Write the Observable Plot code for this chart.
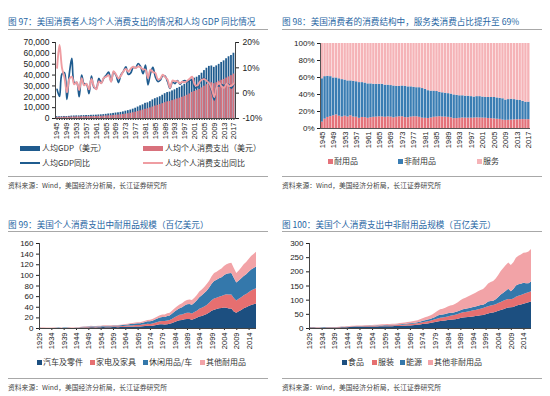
<!DOCTYPE html>
<html><head><meta charset="utf-8">
<script src="https://cdn.jsdelivr.net/npm/d3@7"></script>
<script src="https://cdn.jsdelivr.net/npm/@observablehq/plot@0.6"></script>
<style>
body{margin:0;background:#fff;}
#root{position:relative;width:550px;height:396px;overflow:hidden;background:#fff;}
.abs{position:absolute;}
.title{color:#2766a3;font-size:8.6px;font-family:"Noto Sans CJK SC",sans-serif;white-space:nowrap;line-height:10px;}
.hr{height:0;border-top:1px solid #a8a8a8;}
.src{color:#444;font-size:6.8px;font-family:"Noto Sans CJK SC",sans-serif;white-space:nowrap;line-height:8px;}
.leg{font-size:8px;color:#333;white-space:nowrap;line-height:10px;font-family:"Noto Sans CJK SC",sans-serif;}
</style></head><body><div id="root"></div>
<script>
// ---------- DATA ----------
const years1 = d3.range(1945, 2018);          // 1945..2017
const years3 = d3.range(1929, 2018);          // 1929..2017

// 图97
const gdpPerCapita = [
 1630,1609,1732,1872,1826,1969,2239,2331,2429,2396,
 2565,2661,2756,2751,2934,3002,3060,3238,3369,3567,
 3820,4137,4328,4686,5020,5233,5609,6094,6727,7224,
 7801,8594,9454,10564,11672,12576,13974,14432,15543,17123,
 18239,19074,20038,21417,22859,23891,24340,25420,26389,27698,
 28689,29967,31455,32848,34520,36325,37129,38027,39497,41713,
 44117,46296,47981,48382,47096,48471,49880,51600,53100,55048,
 56870,58017,60114];
const pcePerCapita = [
 858,1021,1124,1194,1198,1265,1347,1394,1454,1472,
 1559,1608,1667,1692,1786,1835,1862,1947,2022,2143,
 2283,2445,2554,2777,2982,3158,3375,3666,4017,4357,
 4781,5276,5798,6407,7061,7723,8442,8951,9780,10595,
 11445,12072,12761,13689,14558,15327,15653,16435,17203,18020,
 18717,19555,20391,21395,22606,24070,24923,25675,26768,28210,
 29760,31180,32372,32929,32096,32985,34305,35204,35942,37259,
 38303,39457,40948];
const gdpYoY = [
 1.5,-1.3,7.6,8.1,-2.5,7.8,13.7,4.1,4.2,-1.4,
 7.1,3.7,3.6,-0.2,6.7,2.3,1.9,5.8,4.0,5.9,
 7.1,8.3,4.6,8.3,7.1,4.2,7.2,8.6,10.4,7.4,
 8.0,10.2,10.0,11.7,10.5,7.7,11.1,3.3,7.7,10.2,
 6.5,4.6,5.1,6.9,6.7,4.5,1.9,4.4,3.8,5.0,
 3.6,4.5,5.0,4.4,5.1,5.2,2.2,2.4,3.9,5.6,
 5.8,4.9,3.6,0.8,-2.7,2.9,2.9,3.4,2.9,3.7,
 3.3,2.0,3.6];
const pceYoY = [
 10.0,19.0,10.0,6.2,0.3,5.6,6.5,3.5,4.3,1.2,
 5.9,3.1,3.7,1.5,5.6,2.7,1.5,4.6,3.9,6.0,
 6.5,7.1,4.5,8.7,7.4,5.9,6.9,8.6,9.6,8.5,
 9.7,10.4,9.9,10.5,10.2,9.4,9.3,6.0,9.3,8.3,
 8.0,5.5,5.7,7.3,6.3,5.3,2.1,5.0,4.7,4.7,
 3.9,4.5,4.3,4.9,5.7,6.5,3.5,3.0,4.3,5.4,
 5.5,4.8,3.8,1.7,-1.5,2.8,4.0,2.6,2.1,3.7,
 2.8,3.0,3.8];
const labels1 = ["人均GDP（美元）","人均个人消费支出（美元）","人均GDP同比","人均个人消费支出同比"];
const pctTicks = [-10, 0, 10, 20];

// 图98 (%)
const cats2 = ["耐用品","非耐用品","服务"];
const durableShare = [
 7.5,11,13,14,15,16,14.5,13.5,14.5,13.5,
 15,13.5,13.3,12,13,12.8,12,12.7,13.2,13.4,
 13.8,13.6,13.2,13.6,13.4,12.6,13.3,13.8,13.8,12.8,
 12.7,13.4,13.8,13.8,13.2,12.2,12.0,11.8,12.4,13.2,
 13.5,13.9,13.5,13.4,13.1,12.5,11.6,11.7,12.0,12.4,
 12.2,12.2,12.2,12.3,12.5,12.4,12.3,12.1,11.8,11.6,
 11.3,10.9,10.7,9.9,9.6,9.7,9.9,10.2,10.3,10.4,
 10.5,10.4,10.4];
const nondurableShare = [
 51,50,48.5,47,44.5,43.5,44,44,42.5,42.5,
 41,42,41.7,42,41,40.7,40.5,39.8,38.8,38.6,
 38.2,38.4,37.8,37.4,37.1,37.4,36.2,35.7,36.2,36.7,
 36.3,35.6,34.7,34.2,34.8,34.8,34,32.7,31.6,30.8,
 30,28.6,28.5,28.1,27.9,28,27.9,27.3,26.5,26.1,
 25.8,25.8,25.3,24.7,25,25.1,24.7,24.4,24.7,24.9,
 25.2,25.1,24.8,25.1,23.9,24.3,24.6,23.8,23.2,22.6,
 21.5,20.6,20.6];
const serviceShare = [
 41.5,39,38.5,39,40.5,40.5,41.5,42.5,43,44,
 44,44.5,45,46,46,46.5,47.5,47.5,48,48,
 48,48,49,49,49.5,50,50.5,50.5,50,50.5,
 51,51,51.5,52,52,53,54,55.5,56,56,
 56.5,57.5,58,58.5,59,59.5,60.5,61,61.5,61.5,
 62,62,62.5,63,62.5,62.5,63,63.5,63.5,63.5,
 63.5,64,64.5,65,66.5,66,65.5,66,66.5,67,
 68,69,69];

// 图99 (百亿美元)
const cats3 = ["汽车及零件","家电及家具","休闲用品/车","其他耐用品"];
const autos = [
 0.3,0.2,0.2,0.1,0.1,0.2,0.2,0.3,0.3,0.2,
 0.3,0.3,0.4,0.1,0.1,0.1,0.1,0.5,0.7,0.8,
 1.0,1.3,1.2,1.1,1.3,1.3,1.7,1.5,1.6,1.4,
 1.7,1.7,1.6,1.9,2.1,2.2,2.5,2.5,2.5,2.9,
 3.0,2.8,3.5,3.9,4.2,3.7,4.1,5.3,6.2,6.9,
 7.0,6.5,7.2,7.8,9.6,11.5,13.3,14.8,15.0,16.3,
 16.9,16.8,15.4,17.2,19.1,21.6,22.4,24.3,26.3,29.2,
 32.6,34.3,35.6,37.0,37.6,38.5,38.2,36.8,36.5,31.2,
 28.8,31.4,34.0,37.0,39.0,41.2,43.5,44.8,46.0];
const furnishings = [
 0.3,0.25,0.2,0.15,0.15,0.15,0.2,0.2,0.25,0.2,
 0.25,0.3,0.35,0.35,0.35,0.4,0.45,0.7,0.9,1.0,
 1.0,1.1,1.15,1.15,1.2,1.2,1.35,1.4,1.45,1.4,
 1.5,1.55,1.55,1.6,1.75,1.9,2.05,2.25,2.35,2.55,
 2.7,2.8,2.9,3.3,3.7,4.0,4.3,4.7,5.2,5.7,
 6.3,6.7,7.1,7.2,8.0,8.8,9.4,10.1,10.5,11.2,
 11.7,11.9,12.0,12.7,13.6,14.7,15.5,16.3,17.2,18.3,
 19.8,21.2,21.5,22.0,22.6,23.8,25.2,26.4,26.6,25.3,
 23.2,23.5,24.0,24.6,25.1,26.2,27.2,28.0,29.0];
const recreation = [
 0.2,0.17,0.14,0.1,0.1,0.11,0.13,0.15,0.17,0.15,
 0.17,0.19,0.22,0.25,0.25,0.25,0.3,0.5,0.6,0.65,
 0.7,0.9,0.85,0.85,0.9,0.95,1.05,1.1,1.15,1.2,
 1.3,1.35,1.4,1.55,1.7,2.0,2.2,2.6,2.7,2.9,
 3.1,3.2,3.5,4.0,4.6,4.9,5.3,5.8,6.4,7.1,
 7.5,7.6,8.2,8.5,9.5,10.7,11.5,12.5,13.6,15.0,
 16.0,16.5,16.5,17.8,19.5,21.8,23.6,25.1,26.8,28.6,
 31.0,33.0,33.5,34.6,35.5,37.0,38.5,39.8,40.5,38.0,
 33.5,34.5,35.5,36.5,37.2,38.5,39.5,40.2,41.0];
const otherDurable = [
 0.3,0.25,0.2,0.15,0.15,0.17,0.2,0.22,0.25,0.23,
 0.25,0.28,0.32,0.35,0.4,0.45,0.5,0.6,0.65,0.7,
 0.7,0.75,0.8,0.8,0.85,0.85,0.9,0.95,1.0,1.0,
 1.05,1.1,1.1,1.2,1.25,1.35,1.45,1.55,1.65,1.8,
 1.95,2.0,2.2,2.4,2.7,2.9,3.1,3.4,3.7,4.1,
 4.5,4.8,5.1,5.3,5.8,6.3,6.6,7.0,7.4,7.9,
 8.3,8.6,8.7,9.1,9.7,10.4,11.0,11.6,12.3,13.0,
 14.0,15.0,15.2,15.6,16.3,17.2,18.1,18.8,19.2,18.6,
 18.0,19.0,20.5,21.8,22.8,24.0,25.3,26.5,27.5];

// 图100 (百亿美元)
const cats4 = ["食品","服装","能源","其他非耐用品"];
const food = [
 1.95,1.8,1.5,1.2,1.15,1.3,1.45,1.6,1.75,1.7,
 1.7,1.8,2.1,2.5,2.8,3.0,3.2,3.7,4.1,4.3,
 4.2,4.4,4.9,5.1,5.2,5.3,5.4,5.6,5.9,6.1,
 6.2,6.3,6.5,6.6,6.8,7.1,7.5,8.0,8.2,8.7,
 9.2,10.0,10.4,11.1,12.3,14.0,15.3,16.3,17.5,19.1,
 21.3,23.3,24.8,25.6,26.5,27.8,28.8,30.0,31.3,33.0,
 35.0,37.0,38.0,38.5,39.7,41.0,42.0,43.5,44.8,46.2,
 48.5,51.0,53.5,55.0,57.3,60.5,63.3,66.3,69.5,72.5,
 72.8,74.5,78.5,81.0,83.0,86.0,88.5,90.5,93.5];
const clothing = [
 1.0,0.9,0.75,0.6,0.55,0.65,0.7,0.75,0.8,0.78,
 0.8,0.85,1.0,1.25,1.5,1.65,1.85,2.0,2.0,2.1,
 2.0,2.0,2.15,2.2,2.25,2.25,2.35,2.45,2.5,2.55,
 2.7,2.75,2.85,3.0,3.1,3.35,3.55,3.85,4.0,4.4,
 4.7,4.8,5.2,5.7,6.3,6.6,7.1,7.6,8.3,9.2,
 9.6,10.2,11.0,11.4,12.3,13.2,14.0,15.0,15.7,16.8,
 18.0,18.4,18.8,19.8,20.6,21.4,21.9,22.5,23.2,24.3,
 25.5,26.0,25.8,26.0,26.5,27.3,28.5,29.5,30.3,29.8,
 28.7,29.9,31.5,32.7,33.5,34.3,35.2,35.8,36.5];
const energy = [
 0.35,0.33,0.3,0.27,0.27,0.3,0.32,0.35,0.38,0.38,
 0.4,0.43,0.48,0.45,0.42,0.45,0.5,0.6,0.7,0.8,
 0.82,0.9,1.0,1.05,1.1,1.15,1.25,1.35,1.4,1.45,
 1.55,1.65,1.7,1.75,1.8,1.9,2.0,2.15,2.25,2.4,
 2.6,2.75,2.9,3.1,3.6,4.8,5.2,5.7,6.2,6.6,
 8.2,10.3,11.2,10.8,10.6,10.8,11.0,9.0,9.3,9.4,
 10.0,11.1,10.9,11.0,11.2,11.4,11.8,12.8,13.0,11.5,
 12.8,16.4,16.0,15.0,17.5,21.3,26.0,29.0,31.8,36.0,
 28.0,33.0,40.0,40.5,40.0,39.0,34.0,32.0,34.0];
const otherNondurable = [
 0.5,0.48,0.45,0.4,0.38,0.42,0.45,0.5,0.55,0.55,
 0.58,0.62,0.7,0.8,0.9,1.0,1.1,1.3,1.45,1.55,
 1.6,1.7,1.85,1.95,2.05,2.15,2.3,2.45,2.6,2.75,
 2.95,3.1,3.25,3.45,3.65,3.95,4.25,4.6,5.0,5.5,
 6.0,6.5,7.0,7.6,8.4,9.4,10.4,11.4,12.5,13.8,
 15.4,17.2,19.0,20.4,22.2,24.0,25.8,27.5,29.6,32.0,
 34.6,37.0,39.0,41.5,43.8,46.0,48.5,51.0,53.0,56.0,
 60.0,64.0,67.0,70.0,73.5,78.0,83.0,87.0,91.0,93.0,
 92.5,95.0,98.0,101.0,103.0,106.0,109.0,112.0,115.0];

const titles = [
 "图 97：美国消费者人均个人消费支出的情况和人均 GDP 同比情况",
 "图 98：美国消费者的消费结构中，服务类消费占比提升至 69%",
 "图 99：美国个人消费支出中耐用品规模（百亿美元）",
 "图 100：美国个人消费支出中非耐用品规模（百亿美元）"];
const sourceText = "资料来源：Wind，美国经济分析局，长江证券研究所";

// ---------- COLORS ----------
const C1 = {gdpBar:"#1f5b8e", pceBar:"#d8717c", gdpLine:"#1f5c8f", pceLine:"#ef9da2"};
const C2 = ["#e4727a", "#3a7db3", "#f5b3b7"];
const C3 = ["#1c4f80", "#e66f70", "#3478ab", "#f2a3a7"];

// ---------- HELPERS ----------
const root = document.getElementById("root");
function div(cls, css, text) {
  const e = document.createElement("div");
  e.className = "abs " + cls;
  Object.assign(e.style, css);
  if (text != null) e.textContent = text;
  root.appendChild(e);
  return e;
}
function place(svg, left, top) {
  svg.style.position = "absolute";
  svg.style.left = left + "px";
  svg.style.top = top + "px";
  root.appendChild(svg);
}
function frame(x0, x1, yTitle, yLine, yFoot, ySrc, title) {
  div("title", {left: x0 + "px", top: (yTitle - 5) + "px"}, title);
  div("hr", {left: x0 + "px", top: yLine + "px", width: (x1 - x0) + "px"});
  div("hr", {left: x0 + "px", top: yFoot + "px", width: (x1 - x0) + "px"});
  div("src", {left: x0 + "px", top: (ySrc - 4) + "px"}, sourceText);
}
function legSquare(x, y, color, text) {
  div("", {left: x + "px", top: (y - 2.5) + "px", width: "5px", height: "5px", background: color});
  div("leg", {left: (x + 6) + "px", top: (y - 5) + "px"}, text);
}
const baseStyle = {fontFamily: "'Liberation Sans', Arial, sans-serif", fontSize: "8px", color: "#222", background: "transparent", overflow: "visible"};

// ---------- PANEL 1 ----------
const t1 = years1.map((year, i) => ({year, gdp: gdpPerCapita[i], pce: pcePerCapita[i], g: gdpYoY[i], p: pceYoY[i]}));
const leftMax = 70000;
const pctToLeft = p => (p - pctTicks[0]) / (pctTicks[pctTicks.length - 1] - pctTicks[0]) * leftMax;
const p1 = Plot.plot({
  width: 272, height: 110, marginTop: 6, marginBottom: 28, marginLeft: 55, marginRight: 37,
  style: baseStyle,
  x: {type: "band", domain: years1, padding: 0.28, label: null},
  y: {domain: [0, leftMax], label: null},
  marks: [
    Plot.barY(t1, {x: "year", y: "gdp", fill: C1.gdpBar}),
    Plot.barY(t1, {x: "year", y: "pce", fill: C1.pceBar}),
    Plot.line(t1, {x: "year", y: d => pctToLeft(d.g), stroke: C1.gdpLine, strokeWidth: 1.7, curve: "catmull-rom"}),
    Plot.line(t1, {x: "year", y: d => pctToLeft(d.p), stroke: C1.pceLine, strokeWidth: 1.9, curve: "catmull-rom"}),
    Plot.axisY({ticks: d3.range(0, leftMax + 1, 10000), tickFormat: d3.format(","), tickSize: 3, tickPadding: 3, fontSize: 8.5, label: null}),
    Plot.axisY({anchor: "right", ticks: pctTicks.map(pctToLeft), tickFormat: d => Math.round(d / leftMax * 30 - 10) + "%", tickSize: 3, tickPadding: 4, fontSize: 8.5, label: null}),
    Plot.axisX({ticks: years1, tickFormat: d => (d - 1945) % 4 === 0 ? String(d) : "", tickRotate: -90, tickSize: 2, tickPadding: 2, fontSize: 7.5, label: null}),
    Plot.ruleY([0], {stroke: "#444"}),
    Plot.frame({anchor: "left", stroke: "#444"}),
    Plot.frame({anchor: "right", stroke: "#444"})
  ]
});
place(p1, 0, 36);
frame(8, 268, 21, 29, 176, 185, titles[0]);
// legend 1
div("", {left: "20px", top: "145.5px", width: "20px", height: "5px", background: C1.gdpBar});
div("leg", {left: "42px", top: "143px"}, labels1[0]);
div("", {left: "143px", top: "145.5px", width: "20px", height: "5px", background: C1.pceBar});
div("leg", {left: "165px", top: "143px"}, labels1[1]);
div("", {left: "20px", top: "162px", width: "20px", height: "1.5px", background: C1.gdpLine});
div("leg", {left: "42px", top: "158px"}, labels1[2]);
div("", {left: "143px", top: "162px", width: "20px", height: "1.5px", background: C1.pceLine});
div("leg", {left: "165px", top: "158px"}, labels1[3]);

// ---------- PANEL 2 ----------
const shares = [durableShare, nondurableShare, serviceShare];
const t2 = years1.flatMap((year, i) => cats2.map((c, k) => ({year, type: c, v: shares[k][i]})));
const p2 = Plot.plot({
  width: 275, height: 115, marginTop: 6, marginBottom: 24, marginLeft: 45, marginRight: 20,
  style: baseStyle,
  x: {type: "band", domain: years1, padding: 0.18, label: null},
  y: {domain: [0, 100], label: null},
  color: {domain: cats2, range: C2},
  marks: [
    Plot.barY(t2, {x: "year", y: "v", fill: "type", order: cats2}),
    Plot.axisY({ticks: [0, 20, 40, 60, 80, 100], tickFormat: d => d + "%", tickSize: 3, tickPadding: 3, fontSize: 8, label: null}),
    Plot.axisX({ticks: years1, tickFormat: d => (d - 1945) % 4 === 0 ? String(d) : "", tickRotate: -90, tickSize: 0, tickPadding: 3, fontSize: 7.5, label: null}),
    Plot.ruleY([0], {stroke: "#555"}),
    Plot.frame({anchor: "left", stroke: "#555"})
  ]
});
place(p2, 275, 37);
frame(282, 542, 21, 29, 176, 185, titles[1]);
legSquare(328, 161, C2[0], cats2[0]);
legSquare(398, 161, C2[1], cats2[1]);
legSquare(477, 161, C2[2], cats2[2]);

// ---------- PANEL 3 & 4 ----------
function areaPanel(series, cats, yMax, yStep, left, width, ml, mr) {
  const t = years3.flatMap((year, i) => cats.map((c, k) => ({year, type: c, v: series[k][i]})));
  return Plot.plot({
    width, height: 118, marginTop: 6, marginBottom: 27, marginLeft: ml, marginRight: mr,
    style: baseStyle,
    x: {domain: [years3[0], years3[years3.length - 1]], label: null},
    y: {domain: [0, yMax], label: null},
    color: {domain: cats, range: C3},
    marks: [
      Plot.areaY(t, {x: "year", y: "v", fill: "type", order: cats}),
      Plot.axisY({ticks: d3.range(0, yMax + 1, yStep), tickSize: 3, tickPadding: 3, fontSize: 8, label: null}),
      Plot.axisX({ticks: years3.filter(y => (y - 1929) % 5 === 0), tickFormat: d => String(d), tickRotate: -90, tickSize: 2, tickPadding: 2, fontSize: 7.5, label: null}),
      Plot.ruleY([0], {stroke: "#444"}),
      Plot.frame({anchor: "left", stroke: "#444"})
    ]
  });
}
const p3 = areaPanel([autos, furnishings, recreation, otherDurable], cats3, 160, 20, 0, 272, 39, 16);
place(p3, 0, 237);
frame(8, 268, 224, 231, 378, 387, titles[2]);
legSquare(37, 362, C3[0], cats3[0]);
legSquare(90, 362, C3[1], cats3[1]);
legSquare(143, 362, C3[2], cats3[2]);
legSquare(200, 362, C3[3], cats3[3]);

const p4 = areaPanel([food, clothing, energy, otherNondurable], cats4, 300, 50, 275, 275, 34, 19);
place(p4, 275, 237);
frame(282, 542, 224, 231, 378, 387, titles[3]);
legSquare(342, 362, C3[0], cats4[0]);
legSquare(372, 362, C3[1], cats4[1]);
legSquare(400, 362, C3[2], cats4[2]);
legSquare(428, 362, C3[3], cats4[3]);
</script></body></html>
